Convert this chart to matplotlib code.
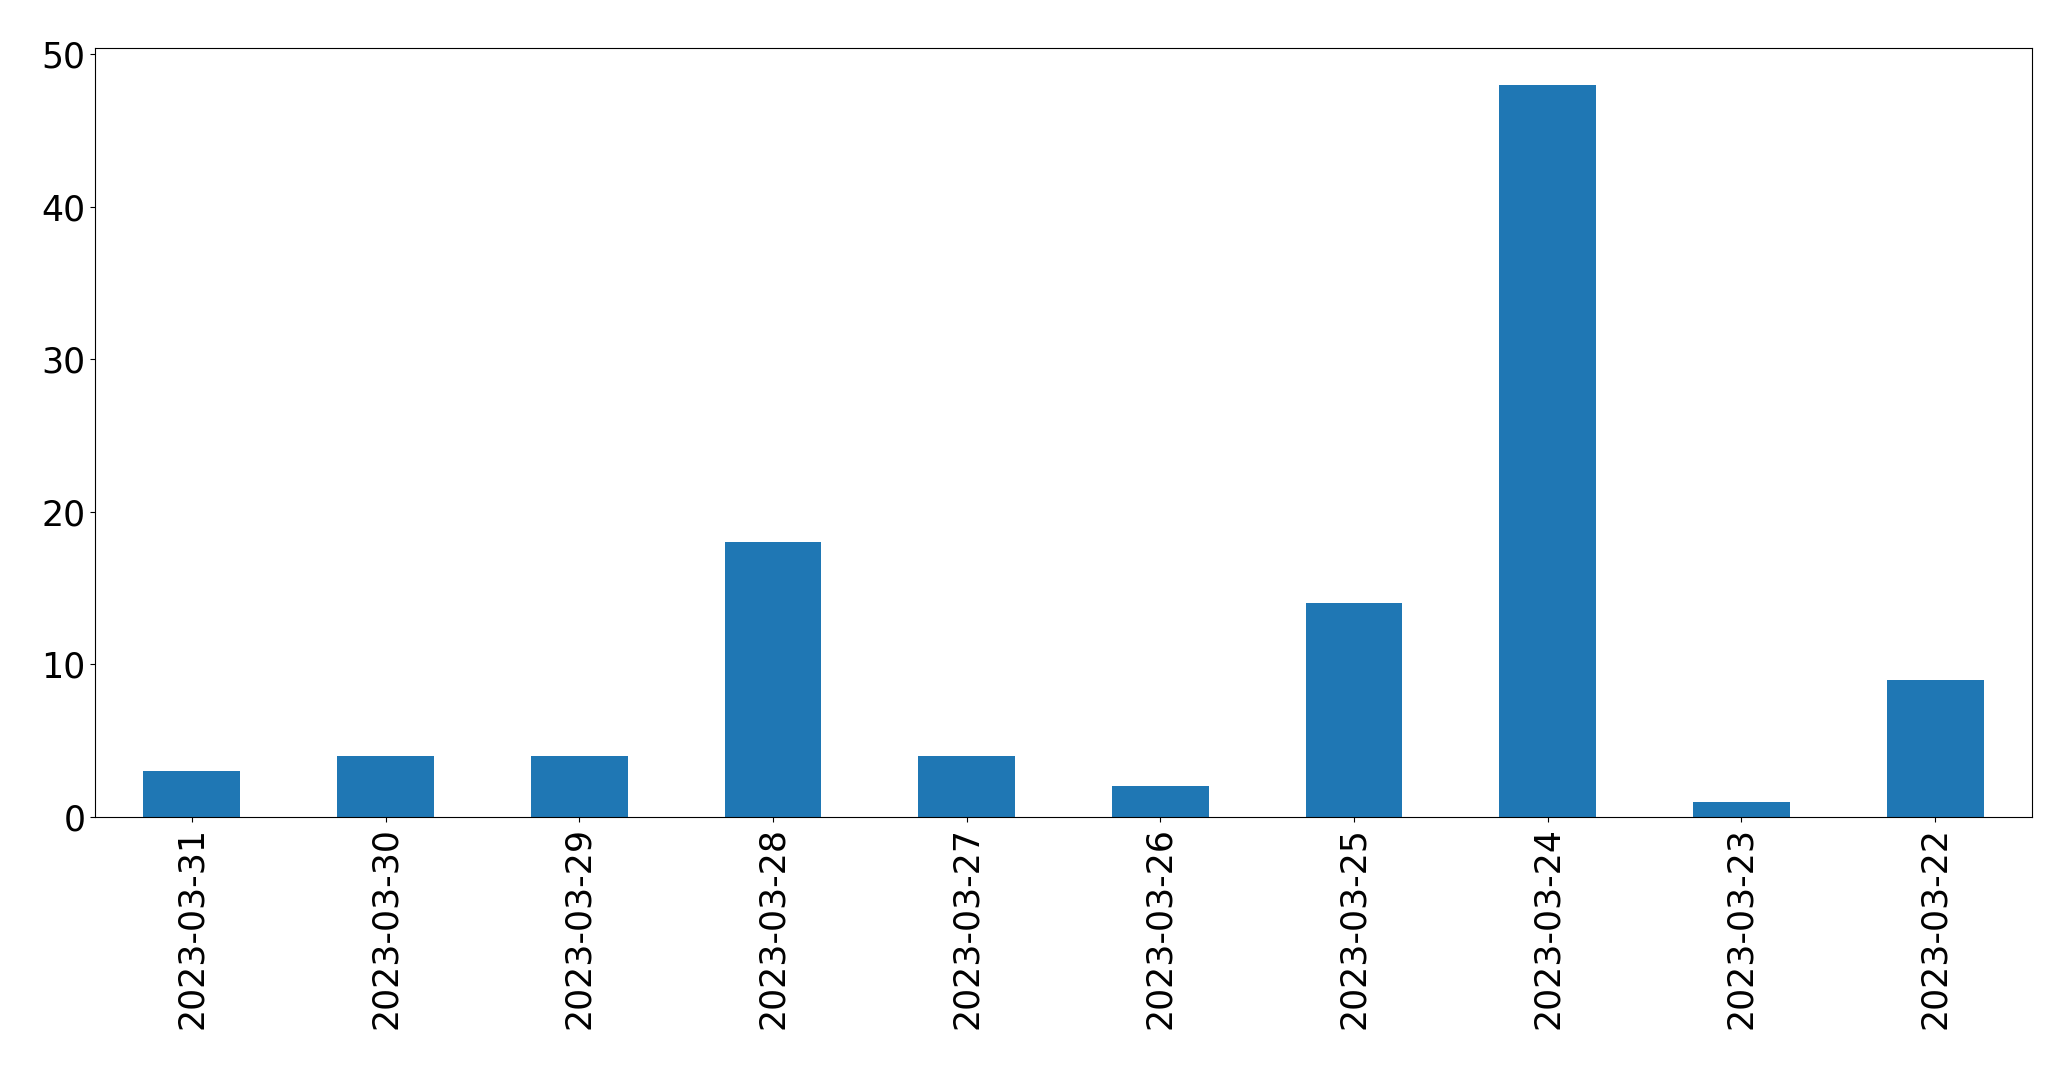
import matplotlib
matplotlib.use('Agg')
import matplotlib.pyplot as plt
import numpy as np

# daily counts, newest first
dates = ['2023-03-31', '2023-03-30', '2023-03-29', '2023-03-28', '2023-03-27',
         '2023-03-26', '2023-03-25', '2023-03-24', '2023-03-23', '2023-03-22']
counts = [3, 4, 4, 18, 4, 2, 14, 48, 1, 9]

plt.rcParams['font.size'] = 25

fig = plt.figure(figsize=[20.71, 10.69], dpi=100)
ax = fig.add_axes([95/2071, 1 - 817/1069, 1937/2071, 769/1069])

x = np.arange(len(dates))
ax.bar(x, counts, width=0.5, color='#1f77b4')
ax.set_xticks(x)
ax.set_xticklabels(dates, rotation=90)
ax.set_xlim(-0.5, len(dates) - 0.5)
ax.set_ylim(0, max(counts) * 1.05)

plt.savefig('out.png', dpi=100)
